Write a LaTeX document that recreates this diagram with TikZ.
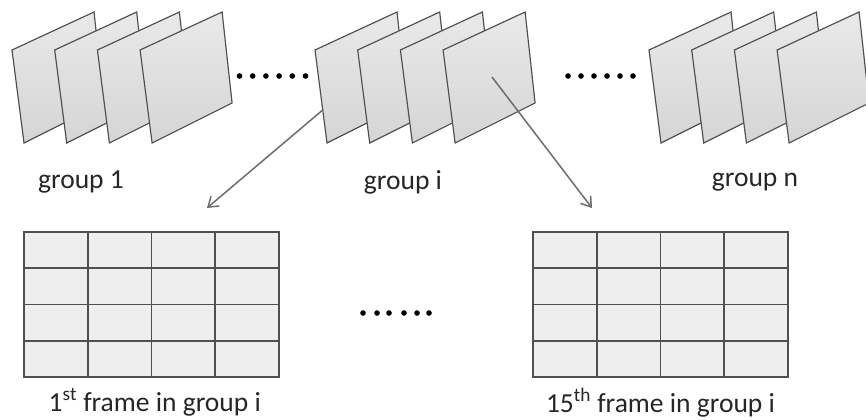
\documentclass[tikz,border=0pt]{standalone}
\usepackage{fontspec}
\setmainfont{Carlito}
\usetikzlibrary{arrows.meta, matrix, positioning}
\definecolor{Linea}{RGB}{80,80,80}
\definecolor{Flecha}{RGB}{110,110,110}

\begin{document}
\begin{tikzpicture}[
  x=0.03cm, y=-0.03cm,
  every node/.style={font=\fontsize{23.5}{27}\selectfont},
  hoja/.style={draw=Linea, line width=1pt, top color=gray!17, bottom color=gray!33},
  celda/.style={
    rectangle, draw=Linea, line width=1.3pt, fill=gray!13,
    minimum width=1.9125cm, minimum height=1.0875cm,
    inner sep=0pt, outer sep=0pt
  },
  rejilla/.style={
    matrix of nodes, nodes in empty cells, nodes={celda},
    column sep=-1.3pt, row sep=-1.3pt, inner sep=0pt
  },
  flecha/.style={-{Straight Barb[length=8pt,width=11pt]}, draw=Flecha, line width=1.3pt},
  etiq/.style={inner sep=0pt, text=black!85}
]
  \useasboundingbox (0,0) rectangle (866,419);

  % --- Grupos de hojas (4 por grupo) ---
  \foreach \g in {12,315,649}{
    \foreach \k in {0,...,3}{
      \draw[hoja] (\g+42.7*\k,50) -- ++(82,-38) -- ++(10,91) -- ++(-80,40) -- cycle;
    }
  }

  % --- Puntos suspensivos ---
  \foreach \x in {0,...,5}{
    \fill (239.5+13.2*\x,76) circle (2.4pt);
    \fill (568+13*\x,76) circle (2.4pt);
  }
  \foreach \x in {363,377,389,404,417,429}
    \fill (\x,313) circle (2.4pt);

  % --- Etiquetas de grupo ---
  \node[etiq] (grupo1) at (81,182)  {group 1};
  \node[etiq] (grupoi) at (403,182) {group i};
  \node[etiq] (grupon) at (755,182) {group n};

  % --- Cuadros divididos en bloques ---
  \matrix (marcoA) [rejilla] at (151.5,304.5) {&&&\\ &&&\\ &&&\\ &&&\\};
  \matrix (marcoB) [rejilla] at (660.5,304.5) {&&&\\ &&&\\ &&&\\ &&&\\};

  \node[etiq, below=0.3cm of marcoA, xshift=0.1cm] (textoA)
    {1\textsuperscript{st} frame in group i};
  \node[etiq, below=0.3cm of marcoB] (textoB)
    {15\textsuperscript{th} frame in group i};

  % --- Flechas desde el grupo i ---
  \coordinate (hojaI1) at (322.7,110);
  \coordinate (hojaI4) at (492,77);
  \coordinate (puntaA) at (207,208);
  \coordinate (puntaB) at (592,208);
  \draw[flecha] (hojaI1) -- (puntaA);
  \draw[flecha] (hojaI4) -- (puntaB);
\end{tikzpicture}
\end{document}
